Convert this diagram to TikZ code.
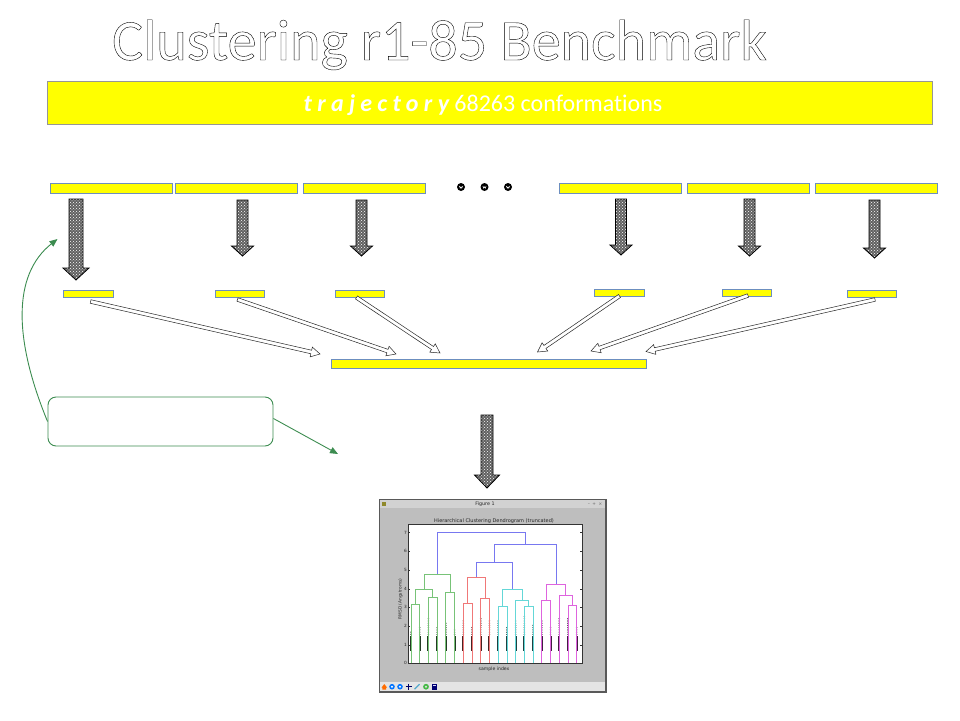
\documentclass[tikz,border=0pt]{standalone}
\usepackage{fontspec}
\setmainfont{Carlito}[Ligatures={NoCommon}]
\newfontfamily\plotfont{DejaVu Sans}
\usetikzlibrary{calc,patterns,arrows.meta}

\definecolor{barfill}{RGB}{255,255,0}
\definecolor{barline}{RGB}{108,142,191}
\definecolor{topline}{RGB}{150,150,150}
\definecolor{notegreen}{RGB}{60,140,80}
\definecolor{dgreen}{RGB}{120,195,120}
\definecolor{dred}{RGB}{240,120,120}
\definecolor{dcyan}{RGB}{100,215,215}
\definecolor{dmag}{RGB}{222,100,222}
\definecolor{dblue}{RGB}{120,120,240}
\definecolor{winbg}{RGB}{190,190,190}
\definecolor{winbar}{RGB}{210,210,210}
\definecolor{toolbg}{RGB}{228,228,228}

% block arrow outline: style, start, tip, shaft half-width, head half-width, head length
\newcommand{\arrowpoly}[6]{%
  \coordinate (ah) at ($(#3)!#6!(#2)$);
  \path[#1] ($(#2)!#4!90:(#3)$) -- ($(ah)!#4!90:(#3)$) -- ($(ah)!#5!90:(#3)$) -- (#3)
    -- ($(ah)!#5!-90:(#3)$) -- ($(ah)!#4!-90:(#3)$) -- ($(#2)!#4!-90:(#3)$) -- cycle;}

% dendrogram link: colour, x1, y1, x2, y2, merge height
\newcommand{\ulink}[6]{\draw[dlink,#1] (#2,#3) -- (#2,#6) -- (#4,#6) -- (#4,#5);}

\begin{document}
\begin{tikzpicture}[x=1pt,y=-1pt,
  ybar/.style={draw=barline, fill=barfill, line width=0.9pt, inner sep=0pt},
  bigarrow/.style={preaction={fill=black!62}, pattern=crosshatch dots, pattern color=white,
    draw=black, line width=0.8pt},
  thinarrow/.style={draw=black!85, fill=white, line width=0.5pt},
  noteline/.style={draw=notegreen, line width=0.9pt},
  dlink/.style={line width=0.8pt},
  plottext/.style={font=\plotfont\fontsize{4.3}{5}\selectfont, inner sep=0pt, text=black!85}]

\useasboundingbox (0,0) rectangle (960,720);

% heading in outlined letters
\node[anchor=base, inner sep=0pt] (title) at (439.5,60)
  {\fontsize{58}{58}\selectfont\special{pdf:literal direct 0.4 w 1 Tr}Clustering r1-85 Benchmark\special{pdf:literal direct 0 Tr}};

% trajectory bar
\node[draw=topline, fill=barfill, line width=0.9pt, inner sep=0pt,
      minimum width=885pt, minimum height=43pt] (traj) at (489.5,103) {};
\node[anchor=base, inner sep=0pt, text=white] (trajtext) at (483,111)
  {\fontsize{24}{24}\selectfont{\bfseries\itshape\addfontfeature{LetterSpace=22}trajectory} 68263 conformations};

% trajectory segments
\node[ybar, minimum width=122pt, minimum height=10pt] (t1) at (111,188) {};
\node[ybar, minimum width=122pt, minimum height=10pt] (t2) at (236,188) {};
\node[ybar, minimum width=122pt, minimum height=10pt] (t3) at (364,188) {};
\node[ybar, minimum width=122pt, minimum height=10pt] (t4) at (620,188) {};
\node[ybar, minimum width=122pt, minimum height=10pt] (t5) at (748,188) {};
\node[ybar, minimum width=122pt, minimum height=10pt] (t6) at (876,188) {};

% ellipsis dots
\foreach \dx in {461,484.5,508} {
  \fill (\dx,187) circle (4pt);
  \draw[white, line width=0.5pt] (\dx-1.6,186) -- (\dx-0.8,188.2) -- (\dx,186.8) -- (\dx+0.8,188.2) -- (\dx+1.6,186);
}

% per-segment results
\node[ybar, minimum width=50pt, minimum height=7pt] (s1) at (88,294) {};
\node[ybar, minimum width=49pt, minimum height=7pt] (s2) at (240,294) {};
\node[ybar, minimum width=49pt, minimum height=7pt] (s3) at (360,294) {};
\node[ybar, minimum width=50pt, minimum height=7pt] (s4) at (619,292.5) {};
\node[ybar, minimum width=49pt, minimum height=7pt] (s5) at (746.5,292.5) {};
\node[ybar, minimum width=49pt, minimum height=7pt] (s6) at (871.5,294) {};

% merged result
\node[ybar, minimum width=315pt, minimum height=9pt] (lb) at (488.5,363.5) {};

% textured block arrows
\coordinate (a1s) at (76,199);    \coordinate (a1e) at (76,280);
\coordinate (a2s) at (242.5,200); \coordinate (a2e) at (242.5,256);
\coordinate (a3s) at (361.5,200); \coordinate (a3e) at (361.5,256);
\coordinate (a4s) at (621,199);   \coordinate (a4e) at (621,255);
\coordinate (a5s) at (749.5,199); \coordinate (a5e) at (749.5,256);
\coordinate (a6s) at (874.5,200); \coordinate (a6e) at (874.5,258);
\coordinate (a7s) at (487,415);   \coordinate (a7e) at (487,488);
\arrowpoly{bigarrow}{a1s}{a1e}{7pt}{13pt}{12pt}
\arrowpoly{bigarrow}{a2s}{a2e}{5.5pt}{11pt}{10pt}
\arrowpoly{bigarrow}{a3s}{a3e}{5.5pt}{11pt}{10pt}
\arrowpoly{bigarrow}{a4s}{a4e}{5.5pt}{11pt}{10pt}
\arrowpoly{bigarrow}{a5s}{a5e}{5.5pt}{11pt}{10pt}
\arrowpoly{bigarrow}{a6s}{a6e}{5.5pt}{11pt}{10pt}
\arrowpoly{bigarrow}{a7s}{a7e}{6pt}{12.5pt}{13pt}

% hollow arrows into the merged result
\coordinate (m1s) at (90.6,301.5);  \coordinate (m1e) at (320,354);
\coordinate (m2s) at (237.5,299.5); \coordinate (m2e) at (396,354);
\coordinate (m3s) at (356.5,297.5); \coordinate (m3e) at (440,353);
\coordinate (m4s) at (619.5,296);   \coordinate (m4e) at (537.5,352);
\coordinate (m5s) at (748,295.5);   \coordinate (m5e) at (591,351);
\coordinate (m6s) at (875,299.5);   \coordinate (m6e) at (646,351.5);
\foreach \k in {1,...,6} {
  \arrowpoly{thinarrow}{m\k s}{m\k e}{1.8pt}{5pt}{9pt}
}

% note box with its two pointers
\node[draw=notegreen, line width=0.9pt, fill=white, rounded corners=8pt,
      minimum width=225pt, minimum height=49pt, inner sep=0pt] (note) at (160.5,421.5) {};
\coordinate (gtip) at (57.5,239);
\coordinate (ntip) at (338,454);
\draw[noteline, -{Triangle[length=8pt,width=6.5pt]}]
  (note.west) .. controls (14,340) and (12,275) .. (gtip);
\draw[noteline, -{Triangle[length=8pt,width=6.5pt]}] ([yshift=3pt]note.east) -- (ntip);

% figure window
\node[draw=black!65, fill=winbg, line width=0.6pt, inner sep=0pt,
      minimum width=226pt, minimum height=192pt] (fig) at (492.5,595.5) {};
\fill[winbar] (380,500) rectangle (605,508.3);
\fill[toolbg] (380,681.7) rectangle (605,691);
\draw[black!65, line width=0.6pt] (fig.north west) rectangle (fig.south east);
\fill[olive!70!gray] (381.5,502) rectangle (385.5,506);
\node[plottext, font=\plotfont\fontsize{4.8}{5}\selectfont] (figtitle) at (485,504.2) {Figure 1};
\node[plottext, text=black!60] (wctl) at (595,504) {–\hspace{2.5pt}+\hspace{2.5pt}×};

% axes
\fill[white] (408.3,524.3) rectangle (581.7,663.3);
\draw[black!80, line width=0.4pt] (408.3,524.3) rectangle (581.7,663.3);
\node[plottext, font=\plotfont\fontsize{5}{6}\selectfont] (ptitle) at (494,521.2) {Hierarchical Clustering Dendrogram (truncated)};
\node[plottext, font=\plotfont\fontsize{4.6}{5}\selectfont] (xlab) at (494,669.3) {sample index};
\node[plottext, rotate=90] (ylab) at (400.5,599) {RMSD (Angstroms)};
\foreach \k in {0,...,7} {
  \draw[black!80, line width=0.3pt] (408.3,663.33-18.67*\k) -- ++(2,0);
  \draw[black!80, line width=0.3pt] (581.7,663.33-18.67*\k) -- ++(-2,0);
  \node[plottext, anchor=east] (yt\k) at (407,663.33-18.67*\k) {\k};
}

\begin{scope}[shift={(411,663.33)}, x=8.72pt, y=18.67pt]
  % sample columns on each leaf
  \foreach \i/\t/\c in {0/1.6/dgreen, 1/1.96/dgreen, 2/2.46/dgreen, 3/1.96/dgreen,
      4/2.23/dgreen, 5/1.88/dgreen, 6/2.27/dred, 7/1.96/dred, 8/2.46/dred, 9/2.37/dred,
      10/2.27/dcyan, 11/1.96/dcyan, 12/2.37/dcyan, 13/2.55/dcyan, 14/2.14/dcyan,
      15/2.32/dmag, 16/1.96/dmag, 17/2.46/dmag, 18/2.44/dmag, 19/1.96/dmag} {
    \draw[line width=2pt, \c!30!black] (\i,0.68) -- (\i,1.45);
    \foreach \v in {1.55,1.67,...,\t} { \fill[\c!30!black] (\i,\v) circle (0.8pt); }
  }
  % green cluster
  \ulink{dgreen}{0}{0}{1}{0}{3.16}
  \ulink{dgreen}{2}{0}{3}{0}{3.54}
  \ulink{dgreen}{4}{0}{5}{0}{3.80}
  \ulink{dgreen}{0.5}{3.16}{2.5}{3.54}{3.96}
  \ulink{dgreen}{1.5}{3.96}{4.5}{3.80}{4.77}
  % red cluster
  \ulink{dred}{6}{0}{7}{0}{3.21}
  \ulink{dred}{8}{0}{9}{0}{3.5}
  \ulink{dred}{6.5}{3.21}{8.5}{3.5}{4.61}
  % cyan cluster
  \ulink{dcyan}{10}{0}{11}{0}{3.07}
  \ulink{dcyan}{13}{0}{14}{0}{3.07}
  \ulink{dcyan}{12}{0}{13.5}{3.07}{3.36}
  \ulink{dcyan}{10.5}{3.07}{12.75}{3.36}{3.96}
  % magenta cluster
  \ulink{dmag}{15}{0}{16}{0}{3.37}
  \ulink{dmag}{18}{0}{19}{0}{3.13}
  \ulink{dmag}{17}{0}{18.5}{3.13}{3.66}
  \ulink{dmag}{15.5}{3.37}{17.75}{3.66}{4.23}
  % upper links
  \ulink{dblue}{7.5}{4.61}{11.625}{3.96}{5.41}
  \ulink{dblue}{9.5625}{5.41}{16.625}{4.23}{6.375}
  \ulink{dblue}{3.0}{4.77}{13.09}{6.375}{7.02}
\end{scope}

% toolbar icons
\fill[orange!85!red] (381.5,687.5) -- (384.3,684) -- (387.1,687.5) -- (386.2,687.5) -- (386.2,689.5) -- (382.4,689.5) -- (382.4,687.5) -- cycle;
\foreach \ix in {392,400} {
  \fill[blue!55!cyan] (\ix,686.7) circle (2.8pt);
  \fill[white] (\ix,686.7) circle (1.1pt);
}
\draw[blue!40!black, line width=0.9pt] (405.5,686.7) -- (411.5,686.7) (408.5,683.7) -- (408.5,689.7);
\draw[cyan!60!gray, line width=1.3pt] (414.5,689.2) -- (419.5,684.2);
\fill[green!45!gray] (426,686.7) circle (2.9pt);
\fill[toolbg] (426,686.7) circle (1.2pt);
\fill[blue!45!black] (431.5,683.9) rectangle (437,689.5);
\fill[white!85!blue] (432.6,684.5) rectangle (435.9,686.3);
\end{tikzpicture}
\end{document}
